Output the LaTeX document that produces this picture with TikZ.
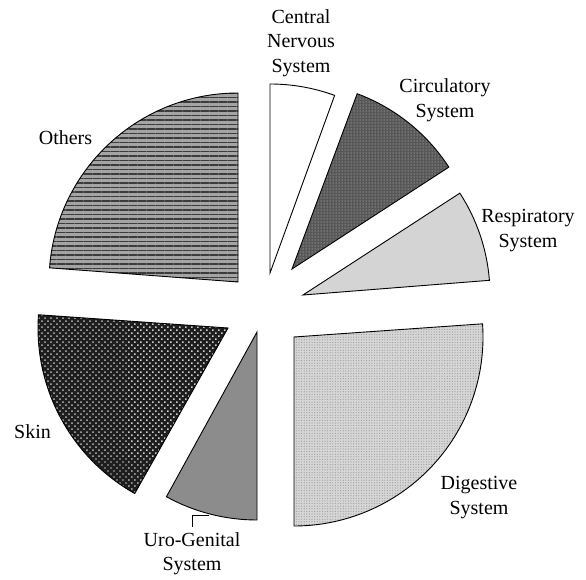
\documentclass[tikz,border=0pt]{standalone}
\usepackage{fontspec}
\setmainfont{Liberation Serif}
\usetikzlibrary{patterns.meta}
\definecolor{circbg}{HTML}{575757}
\definecolor{circdot}{HTML}{8E8E8E}
\definecolor{respbg}{HTML}{D4D4D4}
\definecolor{digbg}{HTML}{D6D6D6}
\definecolor{digdot}{HTML}{9C9C9C}
\definecolor{ugbg}{HTML}{8C8C8C}
\definecolor{skinbg}{HTML}{1E1E1E}
\definecolor{skindot}{HTML}{D0D0D0}
\definecolor{othbg}{HTML}{A4A4A4}
\definecolor{othline}{HTML}{3C3C3C}
\begin{document}
\begin{tikzpicture}[x=1pt,y=1pt,
  slice/.style={draw=black, line width=0.9pt, line join=miter},
  cnsfill/.style={fill=white},
  circfill/.style={preaction={fill=circbg}, pattern={Dots[distance=3pt, radius=0.75pt]}, pattern color=circdot},
  respfill/.style={fill=respbg},
  digfill/.style={preaction={fill=digbg}, pattern={Dots[distance=2.6pt, radius=0.6pt]}, pattern color=digdot},
  ugfill/.style={fill=ugbg},
  skinfill/.style={preaction={fill=skinbg}, pattern={Dots[distance=4.24pt, angle=45, radius=0.95pt]}, pattern color=skindot},
  othfill/.style={preaction={fill=othbg}, pattern={Lines[distance=4.5pt, line width=1.3pt]}, pattern color=othline},
  lbl/.style={font=\fontsize{20}{24.5}\selectfont, align=center, inner sep=0pt},
  leader/.style={draw=black, line width=0.8pt}]
\useasboundingbox (0,0) rectangle (586,579);

% slices: tip, start angle, end angle, radius
\coordinate (cnstip) at (270,306);
\coordinate (circtip) at (292,310);
\coordinate (resptip) at (303,284);
\coordinate (digtip) at (294,242);
\coordinate (ugtip) at (257,247);
\coordinate (skintip) at (228,251);
\coordinate (othtip) at (238,297);

\draw[slice,cnsfill] (cnstip) -- ++(70:189pt) arc[start angle=70, end angle=90, radius=189pt] -- cycle;
\draw[slice,circfill] (circtip) -- ++(33:187pt) arc[start angle=33, end angle=69.6, radius=187pt] -- cycle;
\draw[slice,respfill] (resptip) -- ++(4.5:187pt) arc[start angle=4.5, end angle=33, radius=187pt] -- cycle;
\draw[slice,digfill] (digtip) -- ++(-90:189pt) arc[start angle=-90, end angle=4, radius=189pt] -- cycle;
\draw[slice,ugfill] (ugtip) -- ++(241.2:188pt) arc[start angle=241.2, end angle=270, radius=188pt] -- cycle;
\draw[slice,skinfill] (skintip) -- ++(176:190pt) arc[start angle=176, end angle=240.6, radius=190pt] -- cycle;
\draw[slice,othfill] (othtip) -- ++(90:189pt) arc[start angle=90, end angle=175.7, radius=189pt] -- cycle;

% labels
\node[lbl] (cnsl) at (301,536) {Central\\Nervous\\System};
\node[lbl] (circl) at (445,479) {Circulatory\\System};
\node[lbl] (respl) at (528,348.5) {Respiratory\\System};
\node[lbl] (digl) at (479,81.5) {Digestive\\System};
\node[lbl, inner ysep=5pt, anchor=north] (ugl) at (192,52) {Uro-Genital\\System};
\node[lbl] (skinl) at (32.5,147) {Skin};
\node[lbl] (othl) at (65.5,441) {Others};

% leader for Uro-Genital
\coordinate (uga) at (209,64);
\draw[leader] (uga) -| (ugl.north);
\end{tikzpicture}
\end{document}
